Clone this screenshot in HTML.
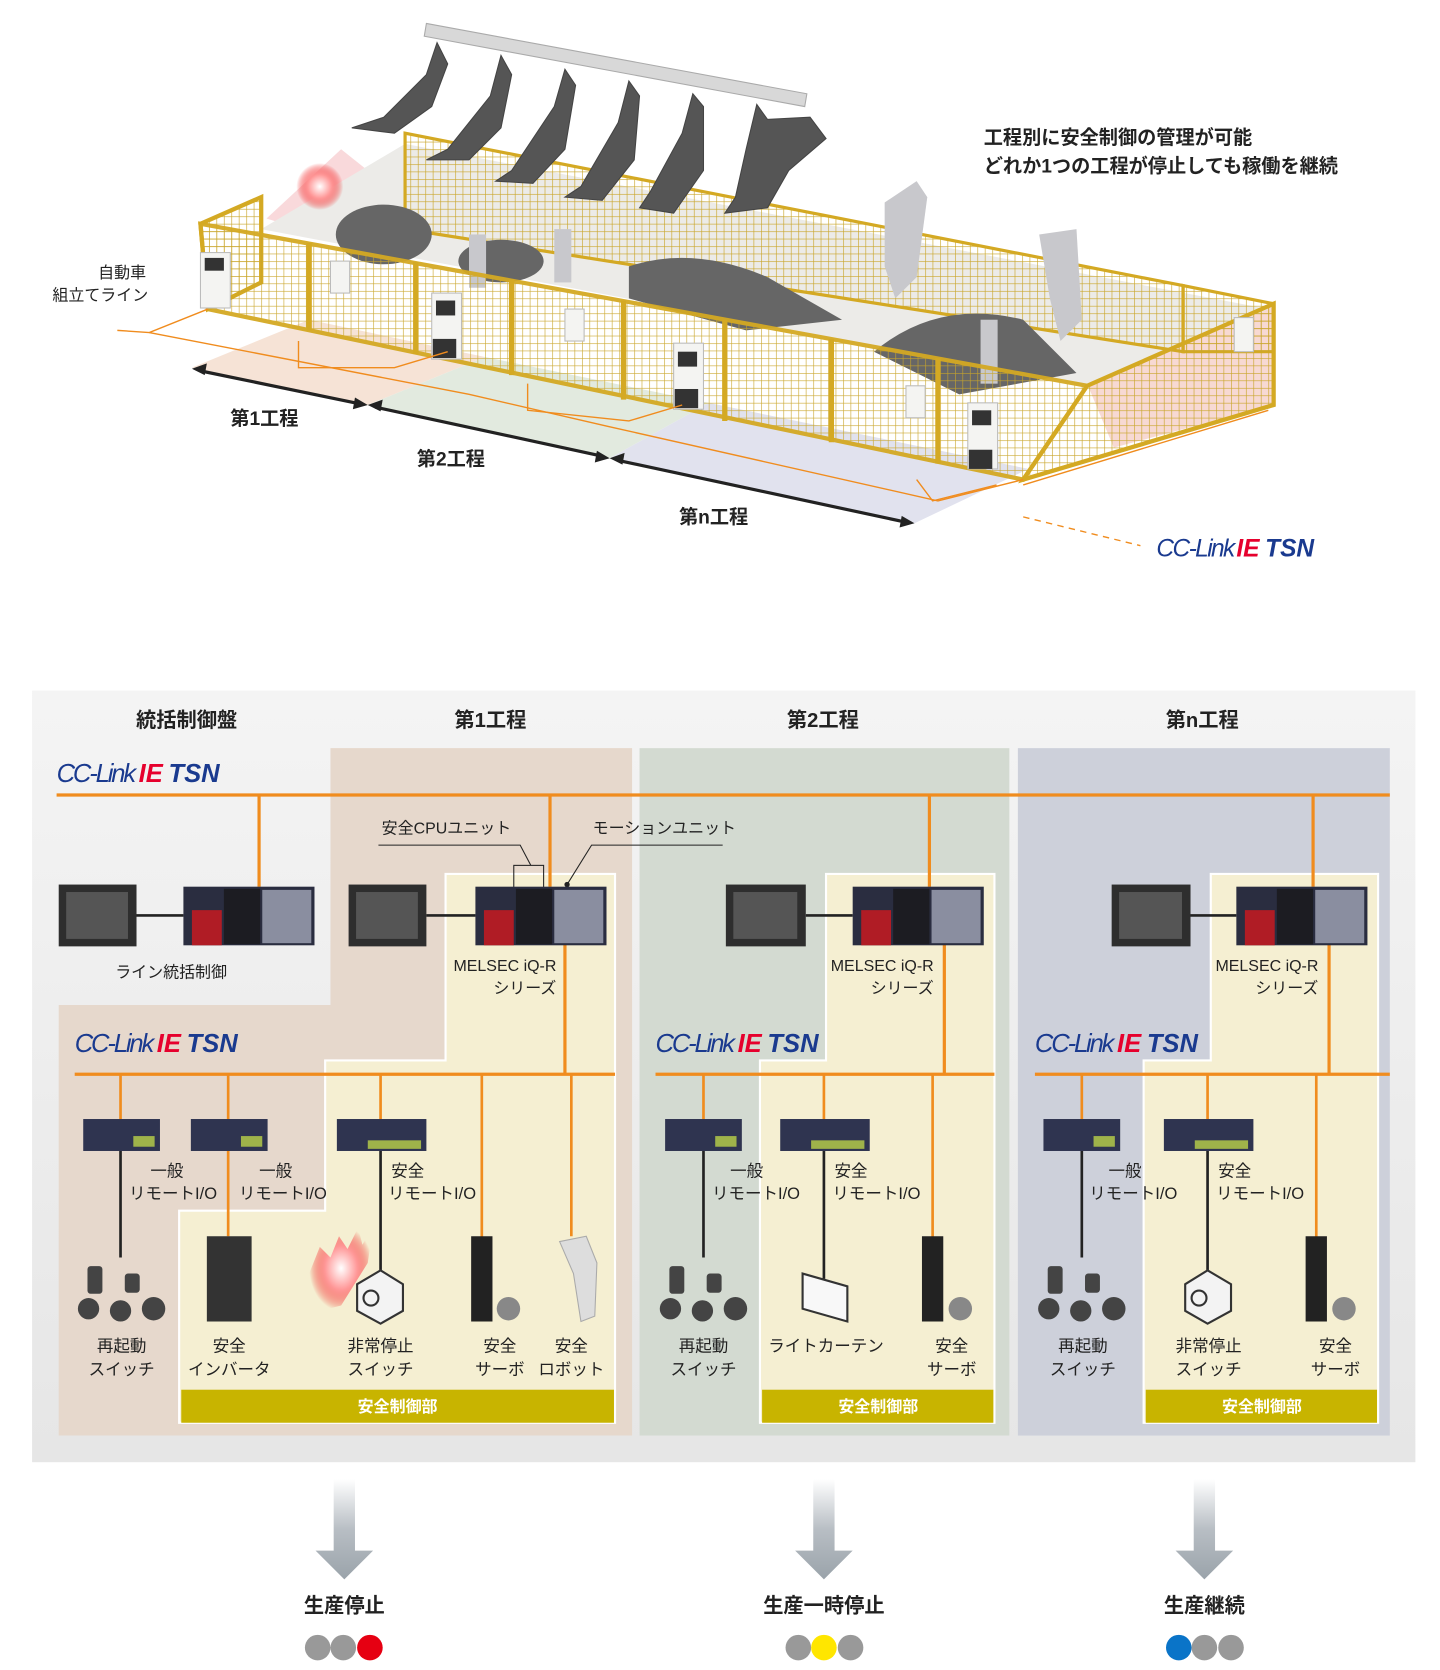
<!DOCTYPE html>
<html><head><meta charset="utf-8"><style>
html,body{margin:0;padding:0;background:#fff;width:1440px;height:1670px;overflow:hidden}
svg{display:block}
text{font-family:"Liberation Sans","Noto Sans CJK JP",sans-serif}
</style></head><body>
<svg width="1440" height="1670" viewBox="0 0 1351 1567" xmlns="http://www.w3.org/2000/svg">
<defs>
<pattern id="grid" width="7" height="7" patternUnits="userSpaceOnUse"><path d="M0 0H7M0 0V7" stroke="#c9a52a" stroke-width="1.2" fill="none"/></pattern>
<linearGradient id="arr" x1="0" y1="0" x2="0" y2="1"><stop offset="0" stop-color="#fff"/><stop offset="0.5" stop-color="#b8bec4"/><stop offset="1" stop-color="#9aa3aa"/></linearGradient>
<linearGradient id="bg" x1="0" y1="0" x2="0" y2="1"><stop offset="0" stop-color="#f4f4f4"/><stop offset="1" stop-color="#e6e6e6"/></linearGradient>
<radialGradient id="flash"><stop offset="0" stop-color="#fff"/><stop offset="0.5" stop-color="#f99"/><stop offset="1" stop-color="#e00" stop-opacity="0"/></radialGradient>
</defs>

<!-- ===== TOP ILLUSTRATION ===== -->
<polygon points="180,345 345,380 455,335 290,300" fill="#f6e3d6"/>
<polygon points="345,380 572,430 665,378 455,335" fill="#e2eadf"/>
<polygon points="572,430 858,491 965,440 665,378" fill="#e1e2ee"/>
<polygon points="1020,360 1195,285 1195,380 1045,420" fill="#f5d0c8" opacity="0.8"/>
<polygon points="250,205 320,140 345,160 330,230" fill="#f7c9cc" opacity="0.7"/>
<polygon points="245,215 380,135 1190,290 1020,362" fill="#ecebe8"/>
<polygon points="380,125 1110,268 1110,330 380,215" fill="url(#grid)" stroke="#d4a923" stroke-width="3"/>
<polygon points="1110,268 1195,285 1195,330 1110,330" fill="url(#grid)" stroke="#d4a923" stroke-width="3"/>
<polygon points="400,22 757,88 755,100 398,34" fill="#d8d8d8" stroke="#aaa"/>
<g fill="#555" stroke="#444">
<path d="M410 40 L400 70 L360 110 L330 120 L370 125 L405 100 L420 60 Z"/>
<path d="M470 52 L460 90 L420 140 L400 150 L440 150 L470 120 L480 70 Z"/>
<path d="M530 65 L520 100 L480 160 L465 170 L500 172 L530 140 L540 80 Z"/>
<path d="M590 76 L580 115 L545 175 L530 185 L565 188 L595 150 L600 90 Z"/>
<path d="M650 88 L640 125 L610 180 L600 195 L632 200 L660 160 L660 100 Z"/>
<path d="M710 98 L700 140 L690 185 L680 200 L720 195 L740 160 L775 130 L760 110 L720 112 Z"/>
</g>
<g fill="#666">
<ellipse cx="360" cy="220" rx="45" ry="28"/>
<path d="M590 250 Q650 230 720 260 L790 300 L700 310 L590 280 Z"/>
<path d="M820 330 Q880 280 960 300 L1010 350 L900 370 Z"/>
<ellipse cx="470" cy="245" rx="40" ry="20"/>
</g>
<g fill="#c8c8cc">
<path d="M830 190 L860 170 L870 185 L860 260 L840 280 L830 250 Z"/>
<path d="M975 220 L1010 215 L1015 300 L995 320 L985 280 Z"/>
<rect x="440" y="220" width="16" height="50"/><rect x="520" y="215" width="16" height="50"/><rect x="920" y="300" width="16" height="60"/>
</g>
<circle cx="300" cy="175" r="22" fill="url(#flash)"/>
<polygon points="188,210 245,185 245,265 195,290" fill="url(#grid)" stroke="#d4a923" stroke-width="4"/>
<polygon points="188,210 1020,362 960,450 195,290" fill="url(#grid)" stroke="#d4a923" stroke-width="4" opacity="0.95"/>
<g stroke="#d4a923" stroke-width="5">
<line x1="290" y1="228" x2="290" y2="310"/><line x1="390" y1="246" x2="390" y2="332"/><line x1="480" y1="262" x2="480" y2="352"/>
<line x1="585" y1="282" x2="585" y2="375"/><line x1="680" y1="300" x2="680" y2="395"/><line x1="780" y1="318" x2="780" y2="415"/><line x1="880" y1="336" x2="880" y2="435"/>
</g>
<polygon points="1020,362 1195,285 1195,380 960,450" fill="url(#grid)" stroke="#d4a923" stroke-width="4"/>
<g fill="#f4f4f2" stroke="#bbb">
<rect x="188" y="237" width="28" height="52"/><rect x="405" y="275" width="28" height="62"/><rect x="632" y="322" width="28" height="62"/><rect x="908" y="378" width="28" height="62"/>
<rect x="310" y="245" width="18" height="30"/><rect x="530" y="290" width="18" height="30"/><rect x="850" y="362" width="18" height="30"/><rect x="1158" y="298" width="18" height="32"/>
</g>
<g fill="#333"><rect x="192" y="242" width="18" height="12"/><rect x="409" y="282" width="18" height="14"/><rect x="636" y="330" width="18" height="14"/><rect x="912" y="385" width="18" height="14"/>
<rect x="406" y="318" width="22" height="18"/><rect x="633" y="365" width="22" height="18"/><rect x="909" y="422" width="22" height="18"/></g>
<g stroke="#f08c1e" stroke-width="1.3" fill="none">
<polyline points="110,310 140,312 195,290"/>
<polyline points="140,312 440,370 570,400 880,470 960,450"/>
<polyline points="280,320 280,345 370,345 420,330"/>
<polyline points="495,360 495,385 590,395 640,380"/>
<polyline points="860,450 875,470 935,455"/>
<polyline points="960,455 1190,385"/>
</g>
<line x1="960" y1="485" x2="1070" y2="512" stroke="#f08c1e" stroke-width="1.3" stroke-dasharray="6,5"/>
<g stroke="#222" stroke-width="3" fill="#222">
<line x1="188" y1="348" x2="338" y2="379"/><polygon points="180,346 194,341 192,352" stroke="none"/><polygon points="345,380 331,384 333,373" stroke="none"/>
<line x1="352" y1="382" x2="565" y2="428"/><polygon points="345,380 359,375 357,386" stroke="none"/><polygon points="572,430 558,434 560,423" stroke="none"/>
<line x1="580" y1="432" x2="850" y2="490"/><polygon points="572,430 586,425 584,436" stroke="none"/><polygon points="858,491 844,495 846,484" stroke="none"/>
</g>
<g font-weight="bold" font-size="18" fill="#222">
<text x="216" y="399">第1工程</text><text x="391" y="437">第2工程</text><text x="637" y="491">第n工程</text>
</g>
<g font-size="15" fill="#222" text-anchor="end"><text x="137" y="261">自動車</text><text x="139" y="282">組立てライン</text></g>
<g font-size="18" font-weight="bold" fill="#222"><text x="923" y="135">工程別に安全制御の管理が可能</text><text x="923" y="162">どれか1つの工程が停止しても稼働を継続</text></g>
<g font-style="italic" font-weight="bold" font-size="23"><text x="1085" y="522" fill="#1a3a8f" font-weight="normal" letter-spacing="-1.5">CC-Link</text><text x="1160" y="522" fill="#e6002d">IE</text><text x="1187" y="522" fill="#1a3a8f">TSN</text></g>

<!-- ===== LOWER DIAGRAM ===== -->
<rect x="30" y="648" width="1298" height="724" fill="url(#bg)"/>
<path d="M310 702 H593 V1347 H55 V943 H310 Z" fill="#e6d8cc"/>
<rect x="600" y="702" width="347" height="645" fill="#d3dad1"/>
<rect x="955" y="702" width="349" height="645" fill="#cdd0da"/>
<g fill="#f5efd2" stroke="#fff" stroke-width="2">
<path d="M418 820 H577 V1335 H168 V1136 H305 V995 H418 Z"/>
<path d="M775 820 H933 V1335 H713 V995 H775 Z"/>
<path d="M1136 820 H1293 V1335 H1073 V995 H1136 Z"/>
</g>
<g fill="#c8b400"><rect x="170" y="1304" width="406" height="31"/><rect x="715" y="1304" width="217" height="31"/><rect x="1075" y="1304" width="217" height="31"/></g>
<g fill="#fff" font-weight="bold" font-size="15" text-anchor="middle"><text x="373" y="1325">安全制御部</text><text x="824" y="1325">安全制御部</text><text x="1184" y="1325">安全制御部</text></g>
<g font-weight="bold" font-size="19" fill="#222" text-anchor="middle"><text x="175" y="682">統括制御盤</text><text x="460" y="682">第1工程</text><text x="772" y="682">第2工程</text><text x="1128" y="682">第n工程</text></g>
<g font-style="italic" font-size="24">
<text x="53" y="734" fill="#1a3a8f" letter-spacing="-2">CC-Link</text><text x="130" y="734" fill="#e6002d" font-weight="bold">IE</text><text x="158" y="734" fill="#1a3a8f" font-weight="bold">TSN</text>
<text x="70" y="987" fill="#1a3a8f" letter-spacing="-2">CC-Link</text><text x="147" y="987" fill="#e6002d" font-weight="bold">IE</text><text x="175" y="987" fill="#1a3a8f" font-weight="bold">TSN</text>
<text x="615" y="987" fill="#1a3a8f" letter-spacing="-2">CC-Link</text><text x="692" y="987" fill="#e6002d" font-weight="bold">IE</text><text x="720" y="987" fill="#1a3a8f" font-weight="bold">TSN</text>
<text x="971" y="987" fill="#1a3a8f" letter-spacing="-2">CC-Link</text><text x="1048" y="987" fill="#e6002d" font-weight="bold">IE</text><text x="1076" y="987" fill="#1a3a8f" font-weight="bold">TSN</text>
</g>
<g stroke="#f08c1e" stroke-width="3" fill="none">
<line x1="53" y1="746" x2="1304" y2="746"/>
<line x1="243" y1="746" x2="243" y2="832"/><line x1="516" y1="746" x2="516" y2="832"/><line x1="872" y1="746" x2="872" y2="832"/><line x1="1232" y1="746" x2="1232" y2="832"/>
<line x1="70" y1="1008" x2="577" y2="1008"/><line x1="615" y1="1008" x2="933" y2="1008"/><line x1="971" y1="1008" x2="1304" y2="1008"/>
<line x1="530" y1="886" x2="530" y2="1008"/><line x1="886" y1="886" x2="886" y2="1008"/><line x1="1247" y1="886" x2="1247" y2="1008"/>
</g>
<g stroke="#f08c1e" stroke-width="2.5">
<line x1="113" y1="1008" x2="113" y2="1050"/><line x1="214" y1="1008" x2="214" y2="1050"/><line x1="357" y1="1008" x2="357" y2="1050"/>
<line x1="452" y1="1008" x2="452" y2="1162"/><line x1="536" y1="1008" x2="536" y2="1160"/><line x1="214" y1="1080" x2="214" y2="1160"/>
<line x1="660" y1="1008" x2="660" y2="1050"/><line x1="773" y1="1008" x2="773" y2="1050"/><line x1="875" y1="1008" x2="875" y2="1162"/>
<line x1="1015" y1="1008" x2="1015" y2="1050"/><line x1="1133" y1="1008" x2="1133" y2="1050"/><line x1="1235" y1="1008" x2="1235" y2="1162"/>
</g>
<g stroke="#222" stroke-width="2.5">
<line x1="113" y1="1080" x2="113" y2="1180"/><line x1="357" y1="1080" x2="357" y2="1195"/>
<line x1="660" y1="1080" x2="660" y2="1180"/><line x1="773" y1="1080" x2="773" y2="1200"/>
<line x1="1015" y1="1080" x2="1015" y2="1180"/><line x1="1133" y1="1080" x2="1133" y2="1195"/>
<line x1="128" y1="859" x2="172" y2="859"/><line x1="400" y1="859" x2="446" y2="859"/><line x1="756" y1="859" x2="800" y2="859"/><line x1="1117" y1="859" x2="1160" y2="859"/>
</g>
<g stroke="#222" stroke-width="1" fill="none">
<polyline points="355,793 488,793 498,812"/><rect x="482" y="812" width="28" height="22"/>
<polyline points="678,793 555,793 532,830"/>
</g>
<circle cx="532" cy="830" r="2.5" fill="#222"/>
<g font-size="15" fill="#222"><text x="358" y="782">安全CPUユニット</text><text x="556" y="782">モーションユニット</text></g>
<g fill="#2e2e2e"><rect x="55" y="830" width="73" height="58"/><rect x="327" y="830" width="73" height="58"/><rect x="681" y="830" width="75" height="58"/><rect x="1043" y="830" width="74" height="58"/></g>
<g fill="#555"><rect x="62" y="837" width="58" height="44"/><rect x="334" y="837" width="58" height="44"/><rect x="688" y="837" width="60" height="44"/><rect x="1050" y="837" width="59" height="44"/></g>
<g>
<g transform="translate(172,832)"><rect width="123" height="55" fill="#2a2d40"/><rect x="8" y="22" width="28" height="33" fill="#b01c25"/><rect x="74" y="3" width="46" height="50" fill="#8a8ea0"/><rect x="38" y="2" width="34" height="52" fill="#1c1c22"/></g>
<g transform="translate(446,832)"><rect width="123" height="55" fill="#2a2d40"/><rect x="8" y="22" width="28" height="33" fill="#b01c25"/><rect x="74" y="3" width="46" height="50" fill="#8a8ea0"/><rect x="38" y="2" width="34" height="52" fill="#1c1c22"/></g>
<g transform="translate(800,832)"><rect width="123" height="55" fill="#2a2d40"/><rect x="8" y="22" width="28" height="33" fill="#b01c25"/><rect x="74" y="3" width="46" height="50" fill="#8a8ea0"/><rect x="38" y="2" width="34" height="52" fill="#1c1c22"/></g>
<g transform="translate(1160,832)"><rect width="123" height="55" fill="#2a2d40"/><rect x="8" y="22" width="28" height="33" fill="#b01c25"/><rect x="74" y="3" width="46" height="50" fill="#8a8ea0"/><rect x="38" y="2" width="34" height="52" fill="#1c1c22"/></g>
</g>
<g font-size="15" fill="#222"><text x="108" y="917">ライン統括制御</text>
<text x="522" y="911" text-anchor="end">MELSEC iQ-R</text><text x="522" y="932" text-anchor="end">シリーズ</text>
<text x="876" y="911" text-anchor="end">MELSEC iQ-R</text><text x="876" y="932" text-anchor="end">シリーズ</text>
<text x="1237" y="911" text-anchor="end">MELSEC iQ-R</text><text x="1237" y="932" text-anchor="end">シリーズ</text></g>
<g fill="#2f3450">
<rect x="78" y="1050" width="72" height="30"/><rect x="179" y="1050" width="72" height="30"/><rect x="316" y="1050" width="84" height="30"/>
<rect x="624" y="1050" width="72" height="30"/><rect x="732" y="1050" width="84" height="30"/>
<rect x="979" y="1050" width="72" height="30"/><rect x="1092" y="1050" width="84" height="30"/>
</g>
<g fill="#9fb34a"><rect x="125" y="1066" width="20" height="10"/><rect x="226" y="1066" width="20" height="10"/><rect x="345" y="1070" width="50" height="8"/><rect x="671" y="1066" width="20" height="10"/><rect x="761" y="1070" width="50" height="8"/><rect x="1026" y="1066" width="20" height="10"/><rect x="1121" y="1070" width="50" height="8"/></g>
<g font-size="15.5" fill="#222">
<text x="141" y="1104">一般</text><text x="121" y="1125">リモートI/O</text>
<text x="243" y="1104">一般</text><text x="224" y="1125">リモートI/O</text>
<text x="367" y="1104">安全</text><text x="364" y="1125">リモートI/O</text>
<text x="685" y="1104">一般</text><text x="668" y="1125">リモートI/O</text>
<text x="783" y="1104">安全</text><text x="781" y="1125">リモートI/O</text>
<text x="1040" y="1104">一般</text><text x="1022" y="1125">リモートI/O</text>
<text x="1143" y="1104">安全</text><text x="1141" y="1125">リモートI/O</text>
</g>
<g fill="#444">
<g><rect x="82" y="1188" width="14" height="26" rx="3"/><rect x="117" y="1195" width="14" height="18" rx="3"/><circle cx="83" cy="1228" r="10"/><circle cx="113" cy="1230" r="10"/><circle cx="144" cy="1228" r="11"/></g>
<g transform="translate(546,0)"><rect x="82" y="1188" width="14" height="26" rx="3"/><rect x="117" y="1195" width="14" height="18" rx="3"/><circle cx="83" cy="1228" r="10"/><circle cx="113" cy="1230" r="10"/><circle cx="144" cy="1228" r="11"/></g>
<g transform="translate(901,0)"><rect x="82" y="1188" width="14" height="26" rx="3"/><rect x="117" y="1195" width="14" height="18" rx="3"/><circle cx="83" cy="1228" r="10"/><circle cx="113" cy="1230" r="10"/><circle cx="144" cy="1228" r="11"/></g>
<rect x="194" y="1160" width="42" height="80" fill="#333"/>
<rect x="442" y="1160" width="20" height="80" fill="#222"/><rect x="865" y="1160" width="20" height="80" fill="#222"/><rect x="1225" y="1160" width="20" height="80" fill="#222"/>
<circle cx="477" cy="1228" r="11" fill="#888"/><circle cx="901" cy="1228" r="11" fill="#888"/><circle cx="1261" cy="1228" r="11" fill="#888"/>
</g>
<path d="M525 1165 L550 1160 L560 1185 L558 1235 L545 1240 L538 1195 Z" fill="#ddd" stroke="#aaa"/>
<g fill="#f3f3f3" stroke="#333" stroke-width="2">
<path d="M335 1205 L357 1192 L378 1205 L378 1230 L357 1242 L335 1230 Z"/>
<path d="M1112 1205 L1133 1192 L1155 1205 L1155 1230 L1133 1242 L1112 1230 Z"/>
<path d="M753 1195 L795 1207 L795 1240 L753 1228 Z" fill="#f8f8f8"/>
</g>
<circle cx="348" cy="1218" r="7" fill="none" stroke="#333" stroke-width="2"/><circle cx="1125" cy="1218" r="7" fill="none" stroke="#333" stroke-width="2"/>
<path d="M290 1195 L300 1170 L310 1180 L318 1160 L326 1172 L336 1152 L340 1168 L350 1150 L345 1185 L320 1225 L300 1230 L292 1215 Z" fill="url(#flash)"/>
<g font-size="15.5" fill="#222" text-anchor="middle">
<text x="114" y="1268">再起動</text><text x="114" y="1290">スイッチ</text>
<text x="215" y="1268">安全</text><text x="215" y="1290">インバータ</text>
<text x="357" y="1268">非常停止</text><text x="357" y="1290">スイッチ</text>
<text x="469" y="1268">安全</text><text x="469" y="1290">サーボ</text>
<text x="536" y="1268">安全</text><text x="536" y="1290">ロボット</text>
<text x="660" y="1268">再起動</text><text x="660" y="1290">スイッチ</text>
<text x="775" y="1268">ライトカーテン</text>
<text x="893" y="1268">安全</text><text x="893" y="1290">サーボ</text>
<text x="1016" y="1268">再起動</text><text x="1016" y="1290">スイッチ</text>
<text x="1134" y="1268">非常停止</text><text x="1134" y="1290">スイッチ</text>
<text x="1253" y="1268">安全</text><text x="1253" y="1290">サーボ</text>
</g>
<g fill="url(#arr)">
<path d="M313 1388 H333 V1455 H350 L323 1482 L296 1455 H313 Z"/>
<path d="M763 1388 H783 V1455 H800 L773 1482 L746 1455 H763 Z"/>
<path d="M1120 1388 H1140 V1455 H1157 L1130 1482 L1103 1455 H1120 Z"/>
</g>
<g font-weight="bold" font-size="19" fill="#222" text-anchor="middle"><text x="323" y="1513">生産停止</text><text x="773" y="1513">生産一時停止</text><text x="1130" y="1513">生産継続</text></g>
<g>
<circle cx="298" cy="1546" r="12" fill="#999"/><circle cx="322" cy="1546" r="12" fill="#999"/><circle cx="347" cy="1546" r="12" fill="#e60012"/>
<circle cx="749" cy="1546" r="12" fill="#999"/><circle cx="773" cy="1546" r="12" fill="#ffe600"/><circle cx="798" cy="1546" r="12" fill="#999"/>
<circle cx="1106" cy="1546" r="12" fill="#0a74c8"/><circle cx="1130" cy="1546" r="12" fill="#999"/><circle cx="1155" cy="1546" r="12" fill="#999"/>
</g>
</svg>
</body></html>
